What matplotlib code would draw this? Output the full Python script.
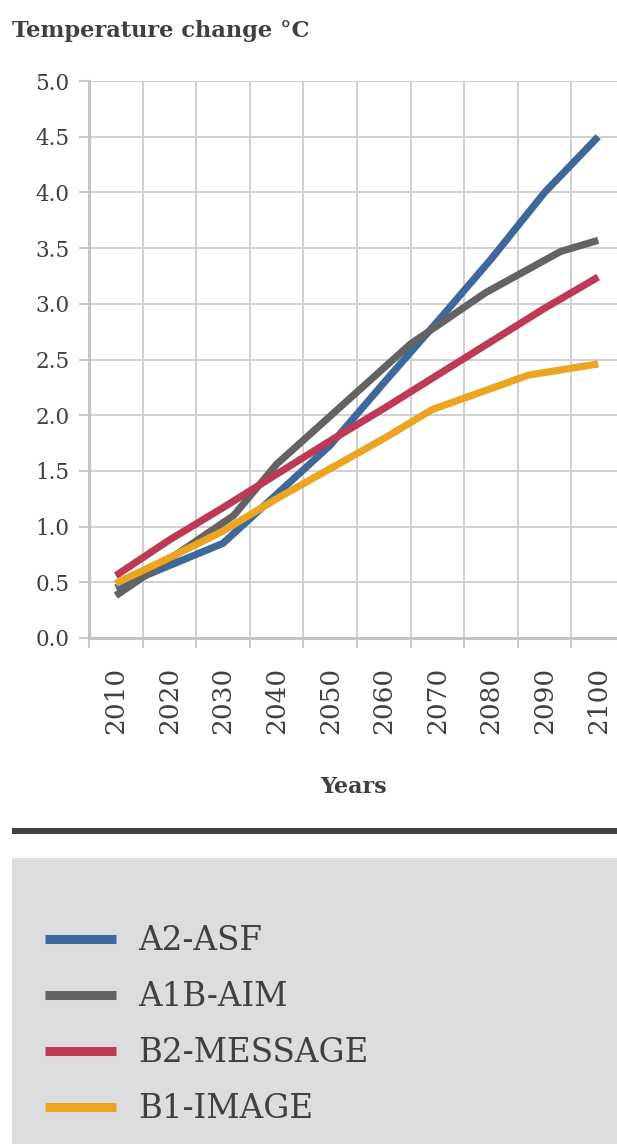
import matplotlib
matplotlib.use("Agg")
import matplotlib.pyplot as plt
from matplotlib.lines import Line2D
from matplotlib.patches import Rectangle

# data
decades = [2010, 2020, 2030, 2040, 2050, 2060, 2070, 2080, 2090, 2100]
tick_labels = [str(d) for d in decades]

a2_years = [2010, 2030, 2040, 2050, 2060, 2070, 2080, 2090, 2100]
a2_asf = [0.45, 0.85, 1.29, 1.73, 2.29, 2.84, 3.40, 4.00, 4.50]

a1b_years = [2010, 2032, 2040, 2065, 2079, 2093, 2100]
a1b_aim = [0.38, 1.10, 1.56, 2.64, 3.10, 3.47, 3.57]

b2_years = decades
b2_message = [0.56, 0.88, 1.17, 1.47, 1.77, 2.06, 2.36, 2.66, 2.96, 3.24]

b1_years = [2010, 2020, 2030, 2040, 2050, 2060, 2069, 2087, 2100]
b1_image = [0.49, 0.72, 0.96, 1.25, 1.52, 1.79, 2.05, 2.36, 2.46]

series = [
    ("A2-ASF", a2_years, a2_asf, "#3d6899"),
    ("A1B-AIM", a1b_years, a1b_aim, "#636363"),
    ("B2-MESSAGE", b2_years, b2_message, "#bc3a55"),
    ("B1-IMAGE", b1_years, b1_image, "#eba521"),
]

TEXT = "#404040"
GRID = "#d0d0d0"
plt.rcParams["font.family"] = ["DejaVu Serif"]

W, H = 617, 1144
fig = plt.figure(figsize=(W / 100, H / 100), dpi=100)

# axes box in pixels: left 89, right 625 (past the edge), top 81, bottom 638
ax = fig.add_axes([89 / W, (H - 638) / H, (625 - 89) / W, (638 - 81) / H])

for name, xs, ys, color in series:
    ax.plot(xs, ys, color=color, lw=5.2, solid_capstyle="butt",
            solid_joinstyle="round", label=name, zorder=3)

ax.set_xlim(2005, 2105)
ax.set_ylim(0, 5)

bounds = [d - 5 for d in decades] + [2105]
ax.set_xticks(bounds)
ax.set_xticklabels([""] * len(bounds))
ax.set_xticks(decades, minor=True)
ax.set_xticklabels(tick_labels, minor=True, rotation=90, fontsize=19, color=TEXT)
ax.tick_params(axis="x", which="major", length=7, width=1.4, color="#c8c8c8")
ax.tick_params(axis="x", which="minor", length=0, pad=21)

yt = [i * 0.5 for i in range(11)]
ax.set_yticks(yt)
ax.set_yticklabels([f"{v:.1f}" for v in yt], fontsize=15.5, color=TEXT)
ax.tick_params(axis="y", length=7, width=1.4, color="#c8c8c8", pad=7)

ax.grid(True, which="major", color=GRID, lw=1.4)
ax.set_axisbelow(True)
for side in ["top", "right"]:
    ax.spines[side].set_visible(False)
for side in ["left", "bottom"]:
    ax.spines[side].set_color("#c4c4c4")
    ax.spines[side].set_linewidth(2.2)

fig.text(12 / W, 1 - 37 / H, "Temperature change °C", fontsize=16.2,
         fontweight="bold", color=TEXT, ha="left", va="baseline")
fig.text(353 / W, 1 - 787 / H, "Years", fontsize=16, fontweight="bold",
         color=TEXT, ha="center", va="center")

# dark rule and grey legend panel
fig.add_artist(Rectangle((12 / W, 1 - 834 / H), (W - 12) / W, 6 / H,
                         transform=fig.transFigure, color="#404040", lw=0))
fig.add_artist(Rectangle((12 / W, 0), (W - 12) / W, (H - 858) / H,
                         transform=fig.transFigure, color="#dcdddf", lw=0))

handles = [Line2D([], [], color=c, lw=6.5, solid_capstyle="butt")
           for _, _, _, c in series]
labels = [n for n, _, _, _ in series]
leg = fig.legend(handles, labels, loc="upper left",
                 bbox_to_anchor=(45 / W, 1 - 925 / H), frameon=False,
                 fontsize=23.5, handlelength=2.18, handletextpad=0.67,
                 labelspacing=0.74, borderpad=0, borderaxespad=0)
for t in leg.get_texts():
    t.set_color(TEXT)

fig.savefig("out.png", dpi=100)
